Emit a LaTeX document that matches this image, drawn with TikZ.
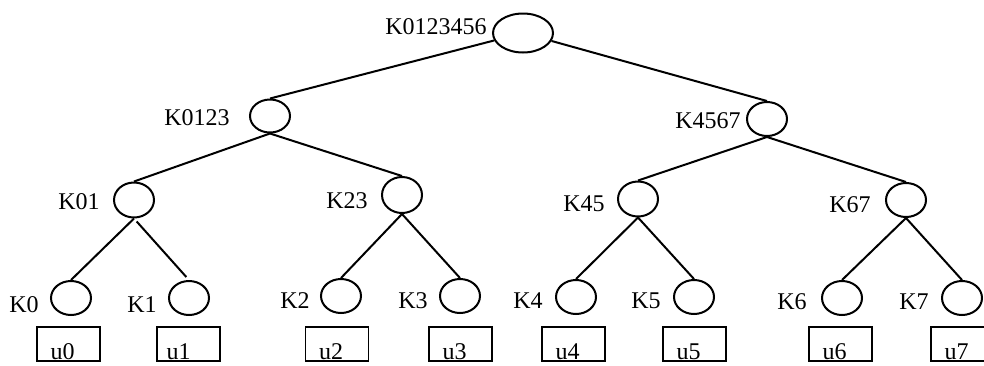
\documentclass[tikz,border=0pt]{standalone}
\usepackage{fontspec}
\setmainfont{Liberation Serif}
\usetikzlibrary{shapes.geometric}
\begin{document}
\begin{tikzpicture}[x=0.5pt,y=-0.5pt,
  kell/.style={ellipse,draw,line width=1pt,minimum width=20pt,minimum height=17pt,inner sep=0pt},
  lab/.style={inner sep=0pt,anchor=base east,font=\fontsize{12pt}{14pt}\selectfont},
  ubox/.style={draw,line width=0.9pt,rectangle,minimum width=31.5pt,minimum height=17pt,inner sep=0pt},
  utext/.style={inner sep=0pt,anchor=base west,xshift=7pt,yshift=1pt,font=\fontsize{12pt}{14pt}\selectfont},
  edge/.style={line width=1pt}]
\useasboundingbox (0,0) rectangle (984,365);
% ellipses
\node[kell,minimum width=30pt,minimum height=19.5pt] (r) at (523,33) {};
\node[kell,minimum height=16.5pt] (k0123) at (270,116) {};
\node[kell] (k4567) at (767,119) {};
\node[kell,minimum height=17.5pt] (k01) at (134,200) {};
\node[kell,minimum height=18pt] (k23) at (402,195) {};
\node[kell,minimum height=17.5pt] (k45) at (638,199) {};
\node[kell] (k67) at (906,200) {};
\node[kell] (k0) at (71,298) {};
\node[kell] (k1) at (189,298) {};
\node[kell] (k2) at (341,296) {};
\node[kell] (k3) at (460,296) {};
\node[kell] (k4) at (576,297) {};
\node[kell] (k5) at (694,297) {};
\node[kell] (k6) at (842,298) {};
\node[kell] (k7) at (962,298) {};
% labels
\node[lab] (lr) at (487,34) {K0123456};
\node[lab] (l0123) at (230,125) {K0123};
\node[lab] (l4567) at (741,128) {K4567};
\node[lab] (l01) at (100,209) {K01};
\node[lab] (l23) at (368,208) {K23};
\node[lab] (l45) at (605,211) {K45};
\node[lab] (l67) at (871,212) {K67};
\node[lab] (l0) at (39,312) {K0};
\node[lab] (l1) at (157,312) {K1};
\node[lab] (l2) at (310,308) {K2};
\node[lab] (l3) at (428,308) {K3};
\node[lab] (l4) at (543,308) {K4};
\node[lab] (l5) at (661,308) {K5};
\node[lab] (l6) at (807,309) {K6};
\node[lab] (l7) at (929,309) {K7};
% boxes
\node[ubox] (u0) at (68.5,344) {};
\node[ubox] (u1) at (188.5,344) {};
\node[ubox] (u2) at (337,344) {};
\node[ubox] (u3) at (460.5,344) {};
\node[ubox] (u4) at (573.5,344) {};
\node[ubox] (u5) at (694.5,344) {};
\node[ubox] (u6) at (840.5,344) {};
\node[ubox] (u7) at (962.5,344) {};
\node[utext] (t0) at (u0.south west) {u0};
\node[utext,xshift=-2pt] (t1) at (u1.south west) {u1};
\node[utext] (t2) at (u2.south west) {u2};
\node[utext] (t3) at (u3.south west) {u3};
\node[utext] (t4) at (u4.south west) {u4};
\node[utext] (t5) at (u5.south west) {u5};
\node[utext] (t6) at (u6.south west) {u6};
\node[utext] (t7) at (u7.south west) {u7};
% edges
\draw[edge] (r) -- (k0123.north);
\draw[edge] (r) -- (k4567.north);
\draw[edge] (k0123.south) -- (k01.north);
\draw[edge] (k0123.south) -- (k23.north);
\draw[edge] (k4567.south) -- (k45.north);
\draw[edge] (k4567.south) -- (k67.north);
\draw[edge] (k01.south) -- (k0.north);
\draw[edge,shorten <=2pt,shorten >=2pt] (k01.south) -- (k1.north);
\draw[edge] (k23.south) -- (k2.north);
\draw[edge] (k23.south) -- (k3.north);
\draw[edge] (k45.south) -- (k4.north);
\draw[edge] (k45.south) -- (k5.north);
\draw[edge] (k67.south) -- (k6.north);
\draw[edge] (k67.south) -- (k7.north);
\end{tikzpicture}
\end{document}
